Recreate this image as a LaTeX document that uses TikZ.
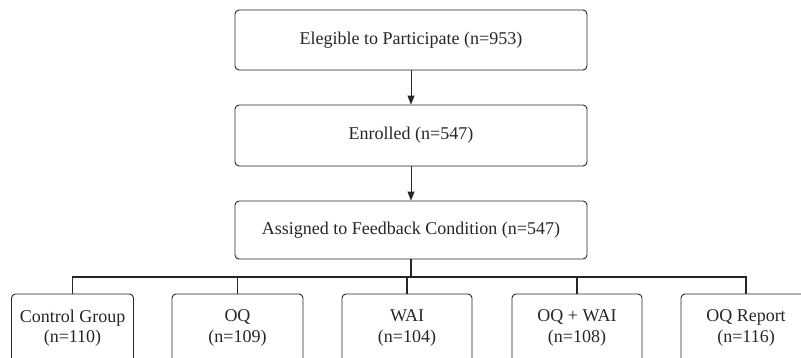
\documentclass[tikz,border=0pt]{standalone}
\usepackage{fontspec}
\setmainfont{Liberation Serif}
\usetikzlibrary{arrows.meta}
\begin{document}
\begin{tikzpicture}[x=1pt,y=-1pt,
  box/.style={draw=black!85,line width=0.9pt,rounded corners=4pt,inner sep=0pt,
    align=center,font=\fontsize{18}{20.5}\selectfont,text=black!85},
  topbox/.style={box,minimum width=352pt},
  grpbox/.style={box,minimum width=130pt,minimum height=68pt},
  arr/.style={draw=black!85,line width=1pt,-{Triangle[length=9pt,width=7pt]}},
  conn/.style={draw=black!85,line width=1.1pt}]
\useasboundingbox (0,0) rectangle (801,358);
\clip (0,0) rectangle (801,358);
\node[topbox,minimum height=60pt] (e) at (411,40) {Elegible to Participate (n=953)};
\node[topbox,minimum height=61pt] (en) at (411,135.5) {Enrolled (n=547)};
\node[topbox,minimum height=58pt] (a) at (411,230) {Assigned to Feedback Condition (n=547)};
\node[grpbox,minimum width=122pt] (c1) at (72.5,328) {Control Group\\(n=110)};
\node[grpbox,minimum width=131pt] (c2) at (237.5,328) {OQ\\(n=109)};
\node[grpbox] (c3) at (407,328) {WAI\\(n=104)};
\node[grpbox] (c4) at (577,328) {OQ + WAI\\(n=108)};
\node[grpbox] (c5) at (746,328) {OQ Report\\(n=116)};
\coordinate (bus) at (411,277);
\draw[arr] (e) -- (en);
\draw[arr] (en) -- (a);
\draw[conn,line width=1.6pt] (a.south) -- (bus);
\draw[conn] (c1.north) -- (c1.north |- bus) -- (c5.north |- bus) -- (c5.north);
\draw[conn] (c2.north) -- (c2.north |- bus);
\draw[conn] (c3.north) -- (c3.north |- bus);
\draw[conn] (c4.north) -- (c4.north |- bus);
\end{tikzpicture}
\end{document}
